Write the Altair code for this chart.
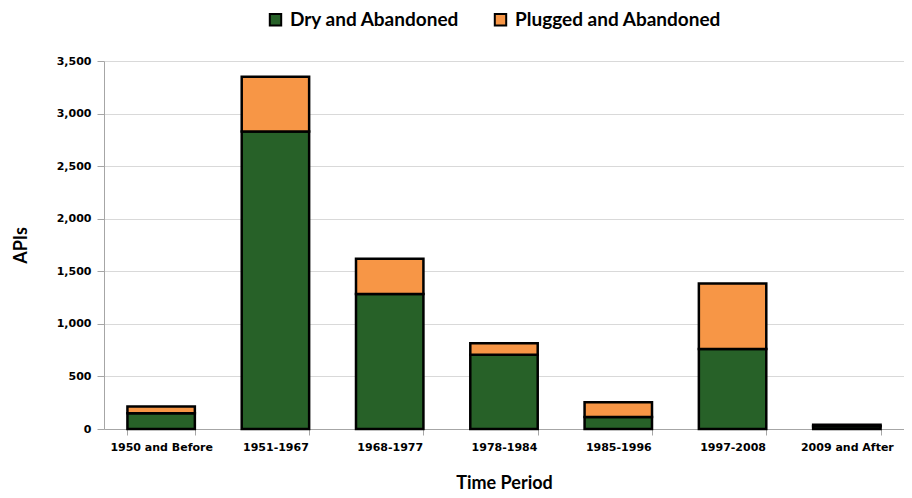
import altair as alt
import pandas as pd

periods = ["1950 and Before", "1951-1967", "1968-1977", "1978-1984",
           "1985-1996", "1997-2008", "2009 and After"]
dry = [150, 2830, 1285, 705, 115, 760, 25]
plugged = [65, 520, 335, 110, 140, 625, 15]
series = ["Dry and Abandoned", "Plugged and Abandoned"]
colors = ["#276128", "#F79646"]

rows = []
for p, d, g in zip(periods, dry, plugged):
    rows.append({"period": p, "type": series[0], "value": d, "ord": 0})
    rows.append({"period": p, "type": series[1], "value": g, "ord": 1})
df = pd.DataFrame(rows)

bold_font = "Lato"
axis_font = "DejaVu Sans"

chart = alt.Chart(df).mark_bar(stroke="black", strokeWidth=2.5).encode(
    x=alt.X("period:N", sort=periods,
            scale=alt.Scale(paddingInner=0.41, paddingOuter=0.205),
            axis=alt.Axis(title="Time Period", labelAngle=0, labelFont=axis_font,
                          labelFontWeight="bold", labelFontSize=11, labelColor="black",
                          labelPadding=6, tickBand="extent", tickSize=6,
                          tickColor="#a6a6a6", domainColor="#a6a6a6",
                          titleFont=bold_font, titleFontSize=18, titleFontWeight="bold",
                          titleColor="black", titlePadding=22)),
    y=alt.Y("value:Q", stack="zero",
            scale=alt.Scale(domain=[0, 3500], nice=False),
            axis=alt.Axis(title="APIs", values=list(range(0, 3501, 500)), format=",.0f",
                          labelFont=axis_font, labelFontWeight="bold", labelFontSize=11,
                          labelColor="black", labelPadding=6, tickSize=7,
                          tickColor="#a6a6a6", domainColor="#a6a6a6",
                          gridColor="#d9d9d9", titleFont=bold_font, titleFontSize=18,
                          titleFontWeight="bold", titleColor="black", titlePadding=26)),
    color=alt.Color("type:N", scale=alt.Scale(domain=series, range=colors),
                    legend=alt.Legend(title=None, orient="none", direction="horizontal",
                                      legendX=162, legendY=-51, symbolType="square",
                                      symbolSize=130, symbolStrokeColor="black",
                                      symbolStrokeWidth=2, labelFont=bold_font,
                                      labelFontSize=19, labelFontWeight="bold",
                                      labelColor="black", columnPadding=30,
                                      labelOffset=5, labelLimit=0)),
    order=alt.Order("ord:Q"),
).properties(
    width=800, height=368,
    padding={"left": 96, "top": 53, "right": 0, "bottom": 66},
    autosize=alt.AutoSizeParams(type="none"),
).configure_view(stroke=None)

chart.save("out.html", embed_options={"renderer": "svg", "actions": False})
